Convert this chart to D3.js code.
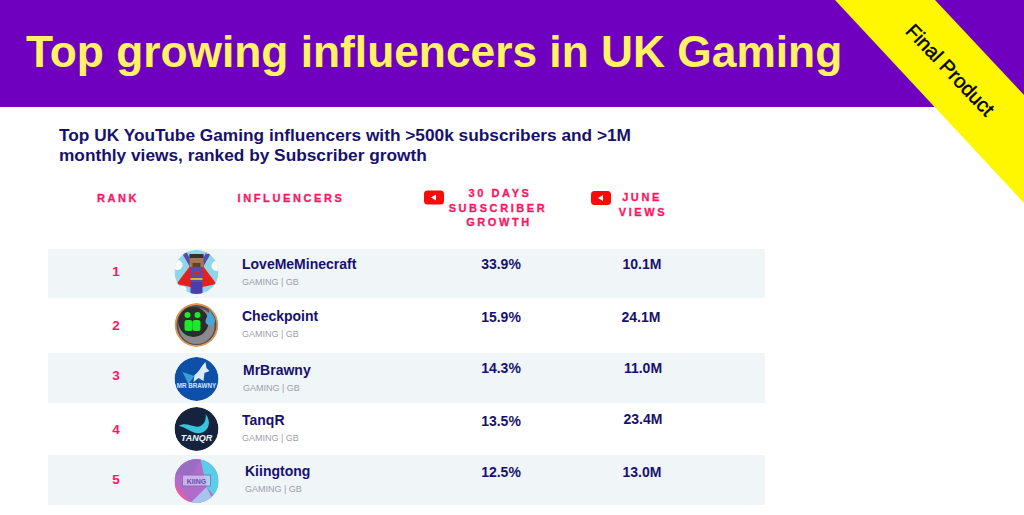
<!DOCTYPE html>
<html>
<head>
<meta charset="utf-8">
<script src="https://cdn.jsdelivr.net/npm/d3@7/dist/d3.min.js"></script>
<style>
html, body { margin: 0; padding: 0; background: #fff; overflow: hidden; }
text { font-family: "Liberation Sans", Arial, sans-serif; font-weight: 700; }
</style>
</head>
<body>
<svg id="chart" width="1024" height="515"></svg>
<script>
// data
var titleText = "Top growing influencers in UK Gaming";
var ribbonText = "Final Product";
var subtitleLines = ["Top UK YouTube Gaming influencers with >500k subscribers and >1M", "monthly views, ranked by Subscriber growth"];
var ranks = [1, 2, 3, 4, 5];
var influencers = ["LoveMeMinecraft", "Checkpoint", "MrBrawny", "TanqR", "Kiingtong"];
var tagline = "GAMING | GB";
var growth = [33.9, 15.9, 14.3, 13.5, 12.5];
var views = [10.1, 24.1, 11.0, 23.4, 13.0];

// the rows in the source are hand placed, so the offsets are not even
var rowEdges = [249, 298, 353, 403, 455, 505];
var avatarY = [272, 325, 379, 429, 481];
var rankY = [271, 325, 375, 429, 479];
var nameX = [242, 242, 243, 242, 245];
var nameY = [264, 316, 370, 420, 471];
var growthY = [264, 317, 368, 421, 472];
var viewsY = [264, 317, 368, 419, 472];
var viewsX = [642, 641, 643, 643, 642];

var navy = "#17116e", pink = "#ff1464", purple = "#6f00c0";

var svg = d3.select("#chart");

var rowTop = d3.scaleOrdinal().domain(ranks).range(rowEdges.slice(0, 5));
var rowBottom = d3.scaleOrdinal().domain(ranks).range(rowEdges.slice(1));
var yAvatar = d3.scaleOrdinal().domain(ranks).range(avatarY);
var yRank = d3.scaleOrdinal().domain(ranks).range(rankY);
var xName = d3.scaleOrdinal().domain(ranks).range(nameX);
var yName = d3.scaleOrdinal().domain(ranks).range(nameY);
var yGrowth = d3.scaleOrdinal().domain(ranks).range(growthY);
var yViews = d3.scaleOrdinal().domain(ranks).range(viewsY);
var xViews = d3.scaleOrdinal().domain(ranks).range(viewsX);

var pct = function (v) { return d3.format(".1f")(v) + "%"; };
var mil = function (v) { return d3.format(".1f")(v) + "M"; };

// banner
svg.append("rect").attr("x", 0).attr("y", 0).attr("width", 1024).attr("height", 107).attr("fill", purple);
svg.append("text").attr("x", 26).attr("y", 67)
    .attr("font-size", 44.3).attr("fill", "#fff263")
    .text(titleText);

// corner ribbon
svg.append("polygon").attr("points", "835,0 935,0 1024,95 1024,203").attr("fill", "#fff700");
svg.append("text")
    .attr("transform", "translate(949,71) rotate(46.5)")
    .attr("text-anchor", "middle").attr("dominant-baseline", "middle")
    .attr("font-size", 20).style("font-weight", 400).attr("stroke", "#000").attr("stroke-width", 0.45)
    .attr("fill", "#000")
    .text(ribbonText);

// subtitle
svg.selectAll(".sub").data(subtitleLines).enter().append("text")
    .attr("class", "sub")
    .attr("x", 59)
    .attr("y", function (d, i) { return 141 + i * 20; })
    .attr("font-size", 17.3).attr("fill", navy)
    .text(function (d) { return d; });

// column heads
var heads = [
    { t: "RANK", x: 118, y: 202 },
    { t: "INFLUENCERS", x: 291, y: 202 },
    { t: "30 DAYS", x: 500, y: 197 },
    { t: "SUBSCRIBER", x: 498, y: 212 },
    { t: "GROWTH", x: 499, y: 226 },
    { t: "JUNE", x: 642, y: 201 },
    { t: "VIEWS", x: 643, y: 216 }
];
svg.selectAll(".head").data(heads).enter().append("text")
    .attr("class", "head")
    .attr("x", function (d) { return d.x; })
    .attr("y", function (d) { return d.y; })
    .attr("text-anchor", "middle")
    .attr("font-size", 11).attr("letter-spacing", 2.6).attr("fill", pink)
    .attr("stroke", pink).attr("stroke-width", 0.3)
    .text(function (d) { return d.t; });

// youtube icons
[[434, 197.5], [601, 198]].forEach(function (p) {
    var g = svg.append("g").attr("transform", "translate(" + p[0] + "," + p[1] + ")");
    g.append("rect").attr("x", -10).attr("y", -7).attr("width", 20).attr("height", 14).attr("rx", 3.5).attr("fill", "#fb0a0a");
    g.append("path").attr("d", "M2,-3L-3,0L2,3Z").attr("fill", "#fff");
});

// rows
svg.selectAll(".row").data(ranks.filter(function (r) { return r % 2 === 1; })).enter().append("rect")
    .attr("class", "row")
    .attr("x", 48).attr("width", 717)
    .attr("y", function (r) { return rowTop(r); })
    .attr("height", function (r) { return rowBottom(r) - rowTop(r); })
    .attr("fill", "#f0f5f8");

svg.selectAll(".rank").data(ranks).enter().append("text")
    .attr("class", "rank")
    .attr("x", 116)
    .attr("y", function (r) { return yRank(r) + 5; })
    .attr("text-anchor", "middle")
    .attr("font-size", 13.5).attr("fill", pink)
    .text(function (r) { return r; });

svg.selectAll(".name").data(ranks).enter().append("text")
    .attr("class", "name")
    .attr("x", function (r) { return xName(r); })
    .attr("y", function (r) { return yName(r) + 5; })
    .attr("font-size", 14).attr("fill", navy)
    .text(function (r, i) { return influencers[i]; });

svg.selectAll(".tag").data(ranks).enter().append("text")
    .attr("class", "tag")
    .attr("x", function (r) { return xName(r); })
    .attr("y", function (r) { return yName(r) + 20.5; })
    .attr("font-size", 9).style("font-weight", 400).attr("fill", "#9c9ea8")
    .text(tagline);

svg.selectAll(".growth").data(ranks).enter().append("text")
    .attr("class", "growth")
    .attr("x", 501)
    .attr("y", function (r) { return yGrowth(r) + 5; })
    .attr("text-anchor", "middle")
    .attr("font-size", 14).attr("fill", navy)
    .text(function (r, i) { return pct(growth[i]); });

svg.selectAll(".views").data(ranks).enter().append("text")
    .attr("class", "views")
    .attr("x", function (r) { return xViews(r); })
    .attr("y", function (r) { return yViews(r) + 5; })
    .attr("text-anchor", "middle")
    .attr("font-size", 14).attr("fill", navy)
    .text(function (r, i) { return mil(views[i]); });

// avatars, rough redraws of the channel pictures
var defs = svg.append("defs");
defs.append("clipPath").attr("id", "round").append("circle").attr("r", 22);

function shape(g, tag, attrs) {
    var el = g.append(tag);
    Object.keys(attrs).forEach(function (k) { el.attr(k, attrs[k]); });
    return el;
}

var avatars = [
    function (g) {
        shape(g, "rect", { x: -22, y: -22, width: 44, height: 44, fill: "#8fd6ea" });
        shape(g, "circle", { cx: -19, cy: -7, r: 5, fill: "#fff" });
        shape(g, "circle", { cx: 20, cy: -6, r: 5, fill: "#fff" });
        shape(g, "circle", { cx: -14, cy: 18, r: 4, fill: "#fff" });
        shape(g, "polygon", { points: "-5,-8 5,-8 20,12 6,15 -6,15 -20,12", fill: "#e8201c" });
        shape(g, "rect", { x: -6, y: -5, width: 12, height: 15, fill: "#5a49b0" });
        shape(g, "rect", { x: -6, y: 10, width: 12, height: 12, fill: "#4a3fa8" });
        shape(g, "rect", { x: -6, y: 6, width: 12, height: 2, fill: "#e0b020" });
        shape(g, "polygon", { points: "-4,-1 4,-1 0,4", fill: "#e8201c" });
        shape(g, "polygon", { points: "-6,-4 -14,-18 -10,-20 -3,-7", fill: "#5a49b0" });
        shape(g, "polygon", { points: "6,-4 14,-18 10,-20 3,-7", fill: "#5a49b0" });
        shape(g, "rect", { x: -7, y: -18, width: 14, height: 13, fill: "#a5764f" });
        shape(g, "rect", { x: -7, y: -18, width: 14, height: 4, fill: "#33302e" });
        shape(g, "rect", { x: -4, y: -9, width: 8, height: 4, fill: "#5c4030" });
        shape(g, "rect", { x: 10, y: -22, width: 5, height: 4, fill: "#f5ea3c" });
    },
    function (g) {
        shape(g, "circle", { r: 22, fill: "#e0965a" });
        shape(g, "circle", { r: 20, fill: "#55504e" });
        shape(g, "circle", { r: 18, cy: 1, fill: "#8a8a8e" });
        shape(g, "circle", { r: 15, cx: -3, cy: -3, fill: "#2c2c2e" });
        shape(g, "rect", { x: -12, y: -5, width: 8, height: 11, rx: 2.5, fill: "#1ee82a" });
        shape(g, "rect", { x: -4, y: -5, width: 8, height: 11, rx: 2.5, fill: "#1ee82a" });
        shape(g, "circle", { cx: -9, cy: -10, r: 3, fill: "#1ee82a" });
        shape(g, "circle", { cx: 1, cy: -10, r: 3, fill: "#1ee82a" });
        shape(g, "path", { d: "M13,-15C16,-10 20,-6 18,-2C16,2 10,1 9,-3C9,-7 12,-10 13,-15Z", fill: "#4aa8d8" });
    },
    function (g) {
        shape(g, "circle", { r: 22, fill: "#0e50a8" });
        shape(g, "polygon", { points: "-14,-7 -2,-3 -8,5", fill: "#3aa0d8" });
        shape(g, "path", { d: "M-2,-4C2,-6 4,-12 9,-17L10,-11L13,-8L8,-6L7,2L2,-1L-3,3Z", fill: "#dce9f8" });
        g.append("text").attr("y", 9).attr("text-anchor", "middle").attr("font-size", 6.3).attr("fill", "#cfe6ff").text("MR BRAWNY");
    },
    function (g) {
        shape(g, "circle", { r: 22, fill: "#16233f" });
        shape(g, "path", { d: "M-18,-3C-10,-8 -2,0 4,-3C8,-5 10,-10 9,-15C15,-8 13,2 4,4C-3,6 -10,-2 -18,-3Z", fill: "#38c4dc" });
        g.append("text").attr("y", 12).attr("text-anchor", "middle").attr("font-size", 9).attr("font-style", "italic").attr("fill", "#eaf6fa").text("TANQR");
    },
    function (g) {
        shape(g, "rect", { x: -22, y: -22, width: 44, height: 44, fill: "#b06cc8" });
        shape(g, "polygon", { points: "4,-22 22,-22 22,20 10,6", fill: "#58cfe6" });
        shape(g, "polygon", { points: "-22,2 -6,22 -22,22", fill: "#ee5aa5" });
        shape(g, "polygon", { points: "-6,22 10,6 18,22", fill: "#a8c4ee" });
        shape(g, "polygon", { points: "-18,-22 4,-22 -4,-6 -22,-6", fill: "#9a6cc4" });
        shape(g, "rect", { x: -14, y: -6, width: 28, height: 11, fill: "#d8c8f0", opacity: 0.75, stroke: "#7a6cc0" });
        g.append("text").attr("y", 3).attr("text-anchor", "middle").attr("font-size", 7).attr("fill", "#5c50b0").text("KIING");
    }
];

var av = svg.selectAll(".avatar").data(ranks).enter().append("g")
    .attr("class", "avatar")
    .attr("transform", function (r) { return "translate(196.5," + yAvatar(r) + ")"; })
    .attr("clip-path", "url(#round)");
av.each(function (r, i) { avatars[i](d3.select(this)); });
</script>
</body>
</html>
